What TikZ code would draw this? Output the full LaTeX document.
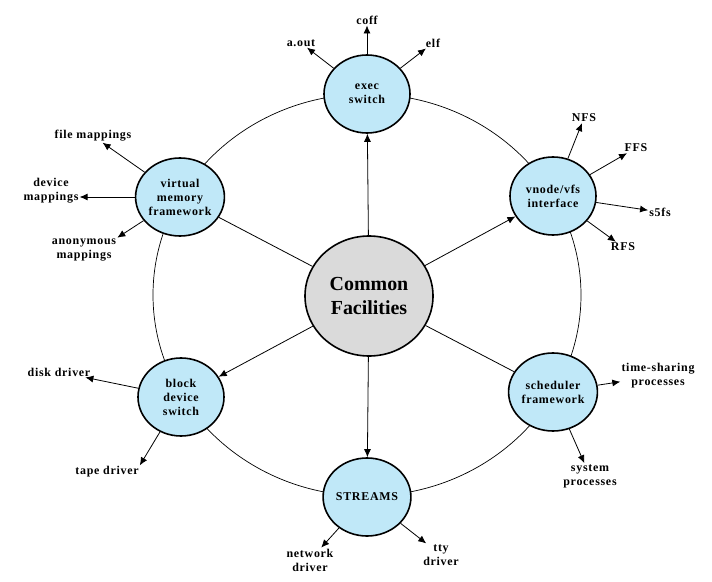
\documentclass[tikz,border=0pt]{standalone}
\usepackage{fontspec}
\setmainfont{Liberation Serif}[LetterSpace=6]
\newfontfamily\corefont{Liberation Serif}
\usetikzlibrary{arrows, arrows.meta}
\usetikzlibrary{shapes.geometric}

\definecolor{subsysblue}{RGB}{192,232,248}
\definecolor{coregray}{RGB}{218,218,218}

\begin{document}
\begin{tikzpicture}[x=1bp, y=-1bp,
    subsys/.style={ellipse, draw, line width=1.6bp, fill=subsysblue, minimum width=86bp, minimum height=78bp, inner sep=0pt, align=center, font=\fontsize{12}{14}\selectfont\bfseries},
    lbl/.style={inner sep=1bp, align=center, font=\fontsize{12}{14}\selectfont\bfseries},
    modarrow/.style={-{Latex[length=8bp,width=7bp]}, line width=0.8bp},
  ]
  \useasboundingbox (0,0) rectangle (712,582);
  % ring behind the subsystems
  \draw[line width=0.7bp] (367,295) ellipse [x radius=214, y radius=201];

  \node[ellipse, draw, line width=1.6bp, fill=coregray, minimum width=128bp, minimum height=120bp, inner sep=0pt, align=center, font=\corefont\fontsize{20}{24}\selectfont\bfseries] (core) at (369,296) {Common\\Facilities};

  \node[subsys] (exec) at (367,94) {exec\\switch};
  \node[subsys] (vnode) at (553,196) {vnode/vfs\\interface};
  \node[subsys] (sched) at (553,392) {scheduler\\framework};
  \node[subsys] (streams) at (367,497) {STREAMS};
  \node[subsys] (block) at (181,397) {block\\device\\switch};
  \node[subsys] (vm) at (180,197) {virtual\\memory\\framework};

  % spokes
  \draw[modarrow] (core) -- (exec);
  \draw[modarrow] (core) -- (vnode);
  \draw[line width=0.8bp] (core) -- (sched);
  \draw[modarrow] (core) -- (streams);
  \draw[modarrow] (core) -- (block);
  \draw[line width=0.8bp] (core) -- (vm);

  % modules
  \node[lbl] (coff) at (367,20) {coff};
  \node[lbl] (aout) at (301,43) {a.out};
  \node[lbl] (elf) at (433,43) {elf};
  \node[lbl] (nfs) at (584,118) {NFS};
  \node[lbl] (ffs) at (636,148) {FFS};
  \node[lbl] (s5fs) at (660,212) {s5fs};
  \node[lbl] (rfs) at (623,247) {RFS};
  \node[lbl] (timeshare) at (658,376) {time-sharing\\processes};
  \node[lbl] (sysproc) at (590,476) {system\\processes};
  \node[lbl] (netdrv) at (310,560) {network\\driver};
  \node[lbl] (ttydrv) at (441,555) {tty\\driver};
  \node[lbl] (tapedrv) at (107,472) {tape driver};
  \node[lbl] (diskdrv) at (59,372) {disk driver};
  \node[lbl] (anonmap) at (84,250) {anonymous\\mappings};
  \node[lbl] (devmap) at (51,191) {device\\mappings};
  \node[lbl] (filemap) at (93,136) {file mappings};

  \draw[modarrow] (exec) -- (coff);
  \draw[modarrow] (exec) -- (aout);
  \draw[modarrow] (exec) -- (elf);
  \draw[modarrow] (vnode) -- (nfs);
  \draw[modarrow] (vnode) -- (ffs);
  \draw[modarrow] (vnode) -- (s5fs);
  \draw[modarrow] (vnode) -- (rfs);
  \draw[modarrow] (sched) -- (timeshare);
  \draw[modarrow] (sched) -- (sysproc);
  \draw[modarrow] (streams) -- (netdrv);
  \draw[modarrow] (streams) -- (ttydrv);
  \draw[modarrow] (block) -- (tapedrv.north east);
  \draw[modarrow] (block) -- (diskdrv);
  \draw[modarrow] (vm) -- (anonmap.north east);
  \draw[modarrow] (vm.west) -- (vm.west -| devmap.east);
  \draw[modarrow] (vm) -- (filemap);
\end{tikzpicture}
\end{document}
